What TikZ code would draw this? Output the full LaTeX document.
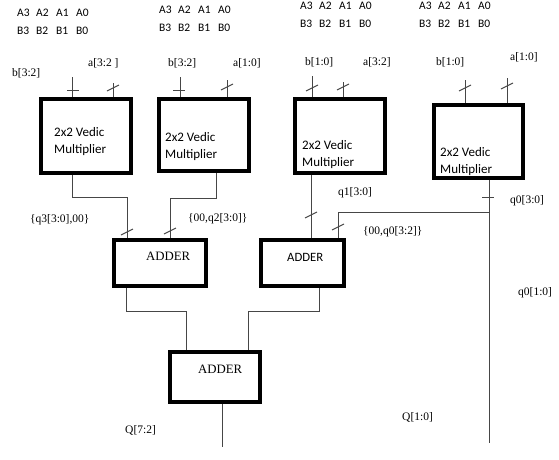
\documentclass[tikz,border=0pt]{standalone}
\usepackage{fontspec}
\setmainfont{Liberation Serif}
\newfontfamily\calfont{Carlito}
\definecolor{wirec}{RGB}{70,70,70}
\begin{document}
\begin{tikzpicture}[x=1pt,y=-1pt,
  box/.style={draw=black, line width=4pt, rectangle, inner sep=0pt},
  wire/.style={draw=wirec, line width=1pt},
  lbl/.style={anchor=west, inner sep=0pt, font=\fontsize{11.5}{13}\selectfont},
  bits/.style={anchor=west, inner sep=0pt, font=\calfont\fontsize{11.5}{17.5}\selectfont, align=left},
  vtxt/.style={anchor=west, inner sep=0pt, font=\calfont\fontsize{13}{17}\selectfont, align=left},
  addtxt/.style={anchor=west, inner sep=0pt, font=\fontsize{12.8}{14}\selectfont},
  slash/.pic={\draw[wire] (-6,3) -- (6,-3);},
  hbar/.pic={\draw[wire] (-6,0) -- (6,0);}
]
\useasboundingbox (0,0) rectangle (559,459);
\fill[white] (0,0) rectangle (559,459);
\newcommand{\bitrow}[4]{\makebox[19pt][l]{#1}\makebox[20pt][l]{#2}\makebox[20pt][l]{#3}#4}
% top bit texts
\node[bits] (t1) at (17,22) {\bitrow{A3}{A2}{A1}{A0}\\\bitrow{B3}{B2}{B1}{B0}};
\node[bits] (t2) at (159,19) {\bitrow{A3}{A2}{A1}{A0}\\\bitrow{B3}{B2}{B1}{B0}};
\node[bits] (t3) at (300,15) {\bitrow{A3}{A2}{A1}{A0}\\\bitrow{B3}{B2}{B1}{B0}};
\node[bits] (t4) at (419,15) {\bitrow{A3}{A2}{A1}{A0}\\\bitrow{B3}{B2}{B1}{B0}};
% multiplier boxes
\node[box, minimum width=90pt, minimum height=74pt] (m1) at (86,136) {};
\node[box, minimum width=90pt, minimum height=72pt] (m2) at (204,135) {};
\node[box, minimum width=90pt, minimum height=74pt] (m3) at (340,136) {};
\node[box, minimum width=89pt, minimum height=73pt] (m4) at (478.5,141.5) {};
\node[vtxt] (v1) at (54,141.5) {2x2 Vedic\\Multiplier};
\node[vtxt] (v2) at (165,146.5) {2x2 Vedic\\Multiplier};
\node[vtxt] (v3) at (302,154.5) {2x2 Vedic\\Multiplier};
\node[vtxt] (v4) at (440,161.5) {2x2 Vedic\\Multiplier};
% adders
\node[box, minimum width=92pt, minimum height=46pt] (ad1) at (160,263) {};
\node[box, minimum width=83pt, minimum height=46pt] (ad2) at (302.5,263) {};
\node[box, minimum width=90pt, minimum height=50pt] (ad3) at (215,377) {};
\node[addtxt] (at1) at (146,256) {ADDER};
\node[anchor=west, inner sep=0pt, font=\calfont\fontsize{12.7}{14}\selectfont] (at2) at (287,257) {ADDER};
\node[addtxt] (at3) at (198,369) {ADDER};
% input wires
\coordinate (i1b) at (72,77);  \coordinate (i1a) at (113,83);
\coordinate (i2b) at (180,77); \coordinate (i2a) at (227,80);
\coordinate (i3b) at (312,76); \coordinate (i3a) at (343,82);
\coordinate (i4b) at (465,80); \coordinate (i4a) at (507,78);
\draw[wire] (i1b) -- (i1b |- m1.north);
\draw[wire] (i1a) -- (i1a |- m1.north);
\draw[wire] (i2b) -- (i2b |- m2.north);
\draw[wire] (i2a) -- (i2a |- m2.north);
\draw[wire] (i3b) -- (i3b |- m3.north);
\draw[wire] (i3a) -- (i3a |- m3.north);
\draw[wire] (i4b) -- (i4b |- m4.north);
\draw[wire] (i4a) -- (i4a |- m4.north);
\pic at (73,90) {hbar};
\pic at (113,88) {slash};
\pic at (179,90) {hbar};
\pic at (227,87) {slash};
\pic at (312,88) {slash};
\pic at (343,87) {slash};
\pic at (465,88) {slash};
\pic at (507,86) {slash};
% input labels
\node[lbl] (l1) at (12,73) {b[3:2]};
\node[lbl] (l2) at (88,63) {a[3:2 ]};
\node[lbl] (l3) at (168,63) {b[3:2]};
\node[lbl] (l4) at (233,63) {a[1:0]};
\node[lbl] (l5) at (305,62) {b[1:0]};
\node[lbl] (l6) at (363,62) {a[3:2]};
\node[lbl] (l7) at (436,62) {b[1:0]};
\node[lbl] (l8) at (510,57) {a[1:0]};
% multiplier outputs
\coordinate (o1) at (72,197);
\coordinate (o1b) at (127,197);
\draw[wire] (m1.south -| o1) -- (o1) -- (o1b) -- (o1b |- ad1.north);
\coordinate (o2) at (216,198);
\coordinate (o2b) at (170,198);
\draw[wire] (m2.south -| o2) -- (o2) -- (o2b) -- (o2b |- ad1.north);
\coordinate (o3) at (311,200);
\draw[wire] (m3.south -| o3) -- (o3 |- ad2.north);
\coordinate (o4) at (489,212);
\coordinate (o4e) at (489,443);
\coordinate (o4b) at (338,212);
\draw[wire] (m4.south -| o4) -- (o4e);
\draw[wire] (o4) -- (o4b) -- (o4b |- ad2.north);
\pic at (127,232) {slash};
\pic at (170,231) {slash};
\pic at (311,215) {slash};
\pic at (338,227) {slash};
\pic at (488,197) {hbar};
% adder outputs
\coordinate (p1) at (126,311);
\coordinate (p1b) at (186,311);
\draw[wire] (ad1.south -| p1) -- (p1) -- (p1b) -- (p1b |- ad3.north);
\coordinate (p2) at (319,311);
\coordinate (p2b) at (248,311);
\draw[wire] (ad2.south -| p2) -- (p2) -- (p2b) -- (p2b |- ad3.north);
\coordinate (p3) at (222,447);
\draw[wire] (ad3.south -| p3) -- (p3);
% internal labels
\node[lbl] (q3) at (30,220) {\{q3[3:0],00\}};
\node[lbl] (q2) at (188,219) {\{00,q2[3:0]\}};
\node[lbl] (q1) at (338,193) {q1[3:0]};
\node[lbl] (q0) at (510,201) {q0[3:0]};
\node[lbl] (q0b) at (363,232) {\{00,q0[3:2]\}};
\node[lbl] (q0c) at (518,293) {q0[1:0]};
\node[lbl] (Q1) at (402,417) {Q[1:0]};
\node[lbl] (Q7) at (125,430) {Q[7:2]};
\end{tikzpicture}
\end{document}
